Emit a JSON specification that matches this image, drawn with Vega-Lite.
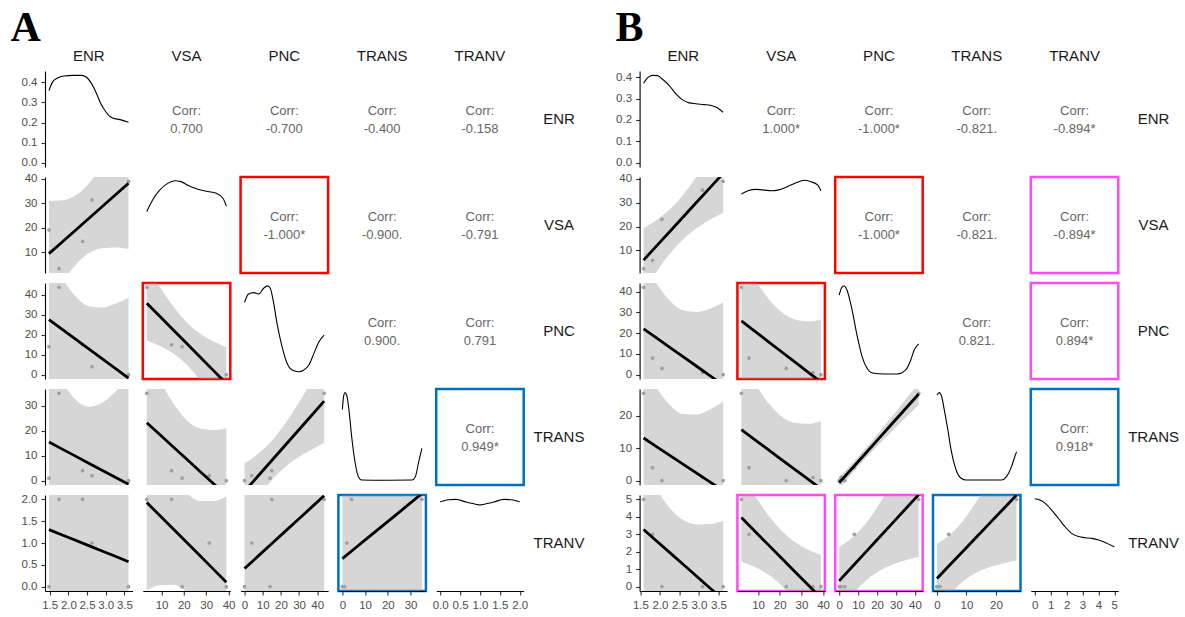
{
"$schema":"https://vega.github.io/schema/vega-lite/v6.json",
"background":"white",
"padding":{"left":10,"top":7,"right":5,"bottom":5},
"datasets":{
"A_obs":[{"ENR":1.48,"VSA":19.2,"PNC":14.0,"TRANS":1,"TRANV":0},{"ENR":1.75,"VSA":3.4,"PNC":43.8,"TRANS":35,"TRANV":2},{"ENR":2.38,"VSA":14.5,"PNC":15.0,"TRANS":4,"TRANV":2},{"ENR":2.63,"VSA":31.4,"PNC":4.0,"TRANS":2,"TRANV":1},{"ENR":3.61,"VSA":39.0,"PNC":0.0,"TRANS":0,"TRANV":0}],
"B_obs":[{"ENR":1.58,"VSA":2.3,"PNC":42,"TRANS":27,"TRANV":5},{"ENR":1.81,"VSA":5.8,"PNC":8,"TRANS":4,"TRANV":3},{"ENR":2.05,"VSA":23.0,"PNC":3,"TRANS":0,"TRANV":0},{"ENR":3.09,"VSA":35.3,"PNC":1,"TRANS":1,"TRANV":0},{"ENR":3.62,"VSA":39.0,"PNC":0,"TRANS":0,"TRANV":0}],
"A_fit":[
{"p":"ENR-VSA","x":1.48,"fit":9.51,"lo":-11.95,"hi":30.97},{"p":"ENR-VSA","x":1.835,"fit":14.29,"lo":-2.67,"hi":31.25},{"p":"ENR-VSA","x":2.19,"fit":19.08,"lo":4.9,"hi":33.26},{"p":"ENR-VSA","x":2.545,"fit":23.86,"lo":9.7,"hi":38.02},{"p":"ENR-VSA","x":2.9,"fit":28.64,"lo":11.73,"hi":45.55},{"p":"ENR-VSA","x":3.255,"fit":33.42,"lo":12.03,"hi":54.81},{"p":"ENR-VSA","x":3.61,"fit":38.2,"lo":11.46,"hi":64.94},
{"p":"ENR-PNC","x":1.48,"fit":27.65,"lo":-4.84,"hi":60.14},{"p":"ENR-PNC","x":1.835,"fit":22.75,"lo":-2.93,"hi":48.43},{"p":"ENR-PNC","x":2.19,"fit":17.85,"lo":-3.62,"hi":39.32},{"p":"ENR-PNC","x":2.545,"fit":12.94,"lo":-8.5,"hi":34.38},{"p":"ENR-PNC","x":2.9,"fit":8.04,"lo":-17.56,"hi":33.64},{"p":"ENR-PNC","x":3.255,"fit":3.14,"lo":-29.24,"hi":35.52},{"p":"ENR-PNC","x":3.61,"fit":-1.77,"lo":-42.25,"hi":38.71},
{"p":"VSA-PNC","x":3.4,"fit":35.86,"lo":17.19,"hi":54.53},{"p":"VSA-PNC","x":9.33,"fit":29.14,"lo":14.33,"hi":43.95},{"p":"VSA-PNC","x":15.27,"fit":22.42,"lo":10.55,"hi":34.29},{"p":"VSA-PNC","x":21.2,"fit":15.7,"lo":5.07,"hi":26.33},{"p":"VSA-PNC","x":27.13,"fit":8.98,"lo":-2.67,"hi":20.63},{"p":"VSA-PNC","x":33.07,"fit":2.26,"lo":-12.2,"hi":16.72},{"p":"VSA-PNC","x":39.0,"fit":-4.46,"lo":-22.71,"hi":13.79},
{"p":"ENR-TRANS","x":1.48,"fit":15.45,"lo":-18.84,"hi":49.74},{"p":"ENR-TRANS","x":1.835,"fit":12.64,"lo":-14.47,"hi":39.75},{"p":"ENR-TRANS","x":2.19,"fit":9.83,"lo":-12.83,"hi":32.49},{"p":"ENR-TRANS","x":2.545,"fit":7.01,"lo":-15.62,"hi":29.64},{"p":"ENR-TRANS","x":2.9,"fit":4.2,"lo":-22.82,"hi":31.22},{"p":"ENR-TRANS","x":3.255,"fit":1.39,"lo":-32.8,"hi":35.58},{"p":"ENR-TRANS","x":3.61,"fit":-1.42,"lo":-44.16,"hi":41.32},
{"p":"VSA-TRANS","x":3.4,"fit":23.23,"lo":-4.36,"hi":50.82},{"p":"VSA-TRANS","x":9.33,"fit":18.37,"lo":-3.52,"hi":40.26},{"p":"VSA-TRANS","x":15.27,"fit":13.51,"lo":-4.03,"hi":31.05},{"p":"VSA-TRANS","x":21.2,"fit":8.65,"lo":-7.06,"hi":24.36},{"p":"VSA-TRANS","x":27.13,"fit":3.79,"lo":-13.43,"hi":21.01},{"p":"VSA-TRANS","x":33.07,"fit":-1.08,"lo":-22.45,"hi":20.29},{"p":"VSA-TRANS","x":39.0,"fit":-5.94,"lo":-32.92,"hi":21.04},
{"p":"PNC-TRANS","x":0,"fit":-4.27,"lo":-15.5,"hi":6.96},{"p":"PNC-TRANS","x":7.3,"fit":1.75,"lo":-7.21,"hi":10.71},{"p":"PNC-TRANS","x":14.6,"fit":7.77,"lo":-0.17,"hi":15.71},{"p":"PNC-TRANS","x":21.9,"fit":13.79,"lo":5.16,"hi":22.42},{"p":"PNC-TRANS","x":29.2,"fit":19.82,"lo":9.13,"hi":30.51},{"p":"PNC-TRANS","x":36.5,"fit":25.84,"lo":12.33,"hi":39.35},{"p":"PNC-TRANS","x":43.8,"fit":31.86,"lo":15.14,"hi":48.58},
{"p":"ENR-TRANV","x":1.48,"fit":1.307,"lo":-1.143,"hi":3.757},{"p":"ENR-TRANV","x":1.835,"fit":1.185,"lo":-0.752,"hi":3.122},{"p":"ENR-TRANV","x":2.19,"fit":1.062,"lo":-0.557,"hi":2.681},{"p":"ENR-TRANV","x":2.545,"fit":0.94,"lo":-0.677,"hi":2.557},{"p":"ENR-TRANV","x":2.9,"fit":0.817,"lo":-1.114,"hi":2.748},{"p":"ENR-TRANV","x":3.255,"fit":0.695,"lo":-1.747,"hi":3.137},{"p":"ENR-TRANV","x":3.61,"fit":0.572,"lo":-2.481,"hi":3.625},
{"p":"VSA-TRANV","x":3.4,"fit":1.928,"lo":-0.078,"hi":3.934},{"p":"VSA-TRANV","x":9.33,"fit":1.624,"lo":0.032,"hi":3.216},{"p":"VSA-TRANV","x":15.27,"fit":1.32,"lo":0.044,"hi":2.596},{"p":"VSA-TRANV","x":21.2,"fit":1.015,"lo":-0.128,"hi":2.158},{"p":"VSA-TRANV","x":27.13,"fit":0.711,"lo":-0.542,"hi":1.964},{"p":"VSA-TRANV","x":33.07,"fit":0.407,"lo":-1.147,"hi":1.961},{"p":"VSA-TRANV","x":39.0,"fit":0.103,"lo":-1.859,"hi":2.065},
{"p":"PNC-TRANV","x":0,"fit":0.415,"lo":-1.346,"hi":2.176},{"p":"PNC-TRANV","x":7.3,"fit":0.693,"lo":-0.712,"hi":2.098},{"p":"PNC-TRANV","x":14.6,"fit":0.971,"lo":-0.275,"hi":2.217},{"p":"PNC-TRANV","x":21.9,"fit":1.249,"lo":-0.104,"hi":2.602},{"p":"PNC-TRANV","x":29.2,"fit":1.527,"lo":-0.149,"hi":3.203},{"p":"PNC-TRANV","x":36.5,"fit":1.805,"lo":-0.314,"hi":3.924},{"p":"PNC-TRANV","x":43.8,"fit":2.084,"lo":-0.538,"hi":4.706},
{"p":"TRANS-TRANV","x":0,"fit":0.643,"lo":-0.856,"hi":2.142},{"p":"TRANS-TRANV","x":5.83,"fit":0.891,"lo":-0.401,"hi":2.183},{"p":"TRANS-TRANV","x":11.67,"fit":1.139,"lo":-0.167,"hi":2.445},{"p":"TRANS-TRANV","x":17.5,"fit":1.387,"lo":-0.148,"hi":2.922},{"p":"TRANS-TRANV","x":23.33,"fit":1.635,"lo":-0.268,"hi":3.538},{"p":"TRANS-TRANV","x":29.17,"fit":1.884,"lo":-0.46,"hi":4.228},{"p":"TRANS-TRANV","x":35,"fit":2.132,"lo":-0.694,"hi":4.958}
],
"B_fit":[
{"p":"ENR-VSA","x":1.58,"fit":5.9,"lo":-7.53,"hi":19.33},{"p":"ENR-VSA","x":1.92,"fit":11.97,"lo":1.09,"hi":22.85},{"p":"ENR-VSA","x":2.26,"fit":18.04,"lo":8.7,"hi":27.38},{"p":"ENR-VSA","x":2.6,"fit":24.12,"lo":14.78,"hi":33.46},{"p":"ENR-VSA","x":2.94,"fit":30.19,"lo":19.31,"hi":41.07},{"p":"ENR-VSA","x":3.28,"fit":36.26,"lo":22.83,"hi":49.69},{"p":"ENR-VSA","x":3.62,"fit":42.33,"lo":25.79,"hi":58.87},
{"p":"ENR-PNC","x":1.58,"fit":22.07,"lo":-10.13,"hi":54.27},{"p":"ENR-PNC","x":1.92,"fit":17.56,"lo":-8.51,"hi":43.63},{"p":"ENR-PNC","x":2.26,"fit":13.05,"lo":-9.34,"hi":35.44},{"p":"ENR-PNC","x":2.6,"fit":8.55,"lo":-13.84,"hi":30.94},{"p":"ENR-PNC","x":2.94,"fit":4.04,"lo":-22.03,"hi":30.11},{"p":"ENR-PNC","x":3.28,"fit":-0.47,"lo":-32.67,"hi":31.73},{"p":"ENR-PNC","x":3.62,"fit":-4.98,"lo":-44.63,"hi":34.67},
{"p":"VSA-PNC","x":2.3,"fit":25.83,"lo":-4.91,"hi":56.57},{"p":"VSA-PNC","x":8.42,"fit":20.94,"lo":-4.14,"hi":46.02},{"p":"VSA-PNC","x":14.53,"fit":16.04,"lo":-4.84,"hi":36.92},{"p":"VSA-PNC","x":20.65,"fit":11.14,"lo":-7.99,"hi":30.27},{"p":"VSA-PNC","x":26.77,"fit":6.25,"lo":-14.21,"hi":26.71},{"p":"VSA-PNC","x":32.88,"fit":1.35,"lo":-23.03,"hi":25.73},{"p":"VSA-PNC","x":39.0,"fit":-3.54,"lo":-33.43,"hi":26.35},
{"p":"ENR-TRANS","x":1.58,"fit":13.19,"lo":-9.21,"hi":35.59},{"p":"ENR-TRANS","x":1.92,"fit":10.47,"lo":-7.67,"hi":28.61},{"p":"ENR-TRANS","x":2.26,"fit":7.76,"lo":-7.82,"hi":23.34},{"p":"ENR-TRANS","x":2.6,"fit":5.04,"lo":-10.54,"hi":20.62},{"p":"ENR-TRANS","x":2.94,"fit":2.33,"lo":-15.81,"hi":20.47},{"p":"ENR-TRANS","x":3.28,"fit":-0.39,"lo":-22.79,"hi":22.01},{"p":"ENR-TRANS","x":3.62,"fit":-3.1,"lo":-30.69,"hi":24.49},
{"p":"VSA-TRANS","x":2.3,"fit":15.75,"lo":-5.77,"hi":37.27},{"p":"VSA-TRANS","x":8.42,"fit":12.7,"lo":-4.86,"hi":30.26},{"p":"VSA-TRANS","x":14.53,"fit":9.66,"lo":-4.96,"hi":24.28},{"p":"VSA-TRANS","x":20.65,"fit":6.61,"lo":-6.79,"hi":20.01},{"p":"VSA-TRANS","x":26.77,"fit":3.57,"lo":-10.76,"hi":17.9},{"p":"VSA-TRANS","x":32.88,"fit":0.53,"lo":-16.54,"hi":17.6},{"p":"VSA-TRANS","x":39.0,"fit":-2.52,"lo":-23.45,"hi":18.41},
{"p":"PNC-TRANS","x":0,"fit":-0.67,"lo":-2.53,"hi":1.19},{"p":"PNC-TRANS","x":7,"fit":3.91,"lo":2.33,"hi":5.49},{"p":"PNC-TRANS","x":14,"fit":8.49,"lo":6.92,"hi":10.06},{"p":"PNC-TRANS","x":21,"fit":13.08,"lo":11.25,"hi":14.91},{"p":"PNC-TRANS","x":28,"fit":17.66,"lo":15.39,"hi":19.93},{"p":"PNC-TRANS","x":35,"fit":22.24,"lo":19.43,"hi":25.05},{"p":"PNC-TRANS","x":42,"fit":26.82,"lo":23.42,"hi":30.22},
{"p":"ENR-TRANV","x":1.58,"fit":3.274,"lo":-0.386,"hi":6.934},{"p":"ENR-TRANV","x":1.92,"fit":2.604,"lo":-0.36,"hi":5.568},{"p":"ENR-TRANV","x":2.26,"fit":1.935,"lo":-0.611,"hi":4.481},{"p":"ENR-TRANV","x":2.6,"fit":1.265,"lo":-1.281,"hi":3.811},{"p":"ENR-TRANV","x":2.94,"fit":0.596,"lo":-2.368,"hi":3.56},{"p":"ENR-TRANV","x":3.28,"fit":-0.074,"lo":-3.734,"hi":3.586},{"p":"ENR-TRANV","x":3.62,"fit":-0.743,"lo":-5.251,"hi":3.765},
{"p":"VSA-TRANV","x":2.3,"fit":3.957,"lo":1.431,"hi":6.483},{"p":"VSA-TRANV","x":8.42,"fit":3.19,"lo":1.129,"hi":5.251},{"p":"VSA-TRANV","x":14.53,"fit":2.422,"lo":0.706,"hi":4.138},{"p":"VSA-TRANV","x":20.65,"fit":1.654,"lo":0.082,"hi":3.226},{"p":"VSA-TRANV","x":26.77,"fit":0.886,"lo":-0.796,"hi":2.568},{"p":"VSA-TRANV","x":32.88,"fit":0.118,"lo":-1.886,"hi":2.122},{"p":"VSA-TRANV","x":39.0,"fit":-0.65,"lo":-3.106,"hi":1.806},
{"p":"PNC-TRANV","x":0,"fit":0.33,"lo":-1.619,"hi":2.279},{"p":"PNC-TRANV","x":7,"fit":1.153,"lo":-0.503,"hi":2.809},{"p":"PNC-TRANV","x":14,"fit":1.976,"lo":0.334,"hi":3.618},{"p":"PNC-TRANV","x":21,"fit":2.8,"lo":0.885,"hi":4.715},{"p":"PNC-TRANV","x":28,"fit":3.623,"lo":1.247,"hi":5.999},{"p":"PNC-TRANV","x":35,"fit":4.447,"lo":1.508,"hi":7.386},{"p":"PNC-TRANV","x":42,"fit":5.27,"lo":1.714,"hi":8.826},
{"p":"TRANS-TRANV","x":0,"fit":0.467,"lo":-1.52,"hi":2.454},{"p":"TRANS-TRANV","x":4.5,"fit":1.264,"lo":-0.456,"hi":2.984},{"p":"TRANS-TRANV","x":9,"fit":2.06,"lo":0.316,"hi":3.804},{"p":"TRANS-TRANV","x":13.5,"fit":2.857,"lo":0.808,"hi":4.906},{"p":"TRANS-TRANV","x":18,"fit":3.653,"lo":1.118,"hi":6.188},{"p":"TRANS-TRANV","x":22.5,"fit":4.45,"lo":1.332,"hi":7.568},{"p":"TRANS-TRANV","x":27,"fit":5.246,"lo":1.492,"hi":9.0}
],
"A_dens":[
{"v":"ENR","x":1.48,"d":0.359},{"v":"ENR","x":1.57,"d":0.4},{"v":"ENR","x":1.71,"d":0.422},{"v":"ENR","x":1.885,"d":0.432},{"v":"ENR","x":2.11,"d":0.435},{"v":"ENR","x":2.33,"d":0.435},{"v":"ENR","x":2.465,"d":0.428},{"v":"ENR","x":2.6,"d":0.4},{"v":"ENR","x":2.74,"d":0.35},{"v":"ENR","x":2.87,"d":0.293},{"v":"ENR","x":3.01,"d":0.251},{"v":"ENR","x":3.14,"d":0.226},{"v":"ENR","x":3.28,"d":0.218},{"v":"ENR","x":3.41,"d":0.213},{"v":"ENR","x":3.61,"d":0.201},
{"v":"VSA","x":3.4,"d":0.0196},{"v":"VSA","x":6.0,"d":0.0236},{"v":"VSA","x":8.96,"d":0.0268},{"v":"VSA","x":12.74,"d":0.0293},{"v":"VSA","x":15.71,"d":0.0302},{"v":"VSA","x":18.72,"d":0.0299},{"v":"VSA","x":21.74,"d":0.0287},{"v":"VSA","x":26.24,"d":0.0273},{"v":"VSA","x":30.74,"d":0.0265},{"v":"VSA","x":34.48,"d":0.0259},{"v":"VSA","x":37.5,"d":0.0242},{"v":"VSA","x":39.0,"d":0.0215},
{"v":"PNC","x":0,"d":0.0249},{"v":"PNC","x":2.18,"d":0.0277},{"v":"PNC","x":4.95,"d":0.0282},{"v":"PNC","x":7.72,"d":0.0277},{"v":"PNC","x":10.49,"d":0.0297},{"v":"PNC","x":12.71,"d":0.0305},{"v":"PNC","x":14.15,"d":0.0297},{"v":"PNC","x":16.03,"d":0.0245},{"v":"PNC","x":17.86,"d":0.0176},{"v":"PNC","x":20.63,"d":0.0096},{"v":"PNC","x":23.4,"d":0.0039},{"v":"PNC","x":26.16,"d":0.0016},{"v":"PNC","x":29.88,"d":0.001},{"v":"PNC","x":32.64,"d":0.0016},{"v":"PNC","x":35.41,"d":0.0033},{"v":"PNC","x":38.18,"d":0.0073},{"v":"PNC","x":40.95,"d":0.0113},{"v":"PNC","x":43.8,"d":0.0136},
{"v":"TRANS","x":0,"d":0.049},{"v":"TRANS","x":0.42,"d":0.0566},{"v":"TRANS","x":1.13,"d":0.0605},{"v":"TRANS","x":1.88,"d":0.0589},{"v":"TRANS","x":2.9,"d":0.0485},{"v":"TRANS","x":4.09,"d":0.0302},{"v":"TRANS","x":5.55,"d":0.013},{"v":"TRANS","x":7.06,"d":0.0027},{"v":"TRANS","x":8.52,"d":0.0004},{"v":"TRANS","x":12.94,"d":0.0003},{"v":"TRANS","x":20.33,"d":0.0003},{"v":"TRANS","x":30.64,"d":0.0004},{"v":"TRANS","x":32.1,"d":0.0027},{"v":"TRANS","x":33.6,"d":0.013},{"v":"TRANS","x":35,"d":0.0222},
{"v":"TRANV","x":0,"d":0.389},{"v":"TRANV","x":0.2,"d":0.398},{"v":"TRANV","x":0.4,"d":0.4},{"v":"TRANV","x":0.65,"d":0.388},{"v":"TRANV","x":0.9,"d":0.378},{"v":"TRANV","x":1.0,"d":0.374},{"v":"TRANV","x":1.1,"d":0.378},{"v":"TRANV","x":1.35,"d":0.388},{"v":"TRANV","x":1.6,"d":0.4},{"v":"TRANV","x":1.8,"d":0.398},{"v":"TRANV","x":2.0,"d":0.389}
],
"B_dens":[
{"v":"ENR","x":1.58,"d":0.372},{"v":"ENR","x":1.68,"d":0.397},{"v":"ENR","x":1.81,"d":0.409},{"v":"ENR","x":1.94,"d":0.408},{"v":"ENR","x":2.06,"d":0.392},{"v":"ENR","x":2.24,"d":0.361},{"v":"ENR","x":2.41,"d":0.322},{"v":"ENR","x":2.58,"d":0.294},{"v":"ENR","x":2.75,"d":0.28},{"v":"ENR","x":2.92,"d":0.276},{"v":"ENR","x":3.13,"d":0.272},{"v":"ENR","x":3.31,"d":0.268},{"v":"ENR","x":3.47,"d":0.257},{"v":"ENR","x":3.62,"d":0.236},
{"v":"VSA","x":2.3,"d":0.0214},{"v":"VSA","x":5.33,"d":0.0223},{"v":"VSA","x":9.18,"d":0.0227},{"v":"VSA","x":12.99,"d":0.0225},{"v":"VSA","x":16.06,"d":0.0223},{"v":"VSA","x":19.09,"d":0.0225},{"v":"VSA","x":22.94,"d":0.0233},{"v":"VSA","x":27.53,"d":0.0246},{"v":"VSA","x":31.34,"d":0.0253},{"v":"VSA","x":34.41,"d":0.0249},{"v":"VSA","x":37.44,"d":0.024},{"v":"VSA","x":39.0,"d":0.0223},
{"v":"PNC","x":0,"d":0.0456},{"v":"PNC","x":1.5,"d":0.0501},{"v":"PNC","x":2.7,"d":0.0508},{"v":"PNC","x":4.1,"d":0.0485},{"v":"PNC","x":6.8,"d":0.0371},{"v":"PNC","x":9.4,"d":0.0227},{"v":"PNC","x":12.1,"d":0.0103},{"v":"PNC","x":14.7,"d":0.0037},{"v":"PNC","x":18.2,"d":0.0008},{"v":"PNC","x":23.6,"d":0.0004},{"v":"PNC","x":30.7,"d":0.0004},{"v":"PNC","x":35.1,"d":0.0027},{"v":"PNC","x":37.8,"d":0.0084},{"v":"PNC","x":39.6,"d":0.0141},{"v":"PNC","x":42,"d":0.0176},
{"v":"TRANS","x":0,"d":0.0687},{"v":"TRANS","x":0.8,"d":0.0706},{"v":"TRANS","x":1.6,"d":0.0673},{"v":"TRANS","x":2.5,"d":0.0566},{"v":"TRANS","x":3.7,"d":0.0406},{"v":"TRANS","x":4.8,"d":0.0246},{"v":"TRANS","x":6.5,"d":0.0085},{"v":"TRANS","x":8.2,"d":0.0019},{"v":"TRANS","x":9.9,"d":0.0005},{"v":"TRANS","x":13.9,"d":0.0005},{"v":"TRANS","x":21.9,"d":0.0005},{"v":"TRANS","x":23.6,"d":0.0032},{"v":"TRANS","x":25.3,"d":0.0112},{"v":"TRANS","x":26.4,"d":0.0192},{"v":"TRANS","x":27,"d":0.0232},
{"v":"TRANV","x":0,"d":0.302},{"v":"TRANV","x":0.32,"d":0.298},{"v":"TRANV","x":0.64,"d":0.287},{"v":"TRANV","x":1.06,"d":0.263},{"v":"TRANV","x":1.48,"d":0.235},{"v":"TRANV","x":1.9,"d":0.206},{"v":"TRANV","x":2.32,"d":0.183},{"v":"TRANV","x":2.75,"d":0.172},{"v":"TRANV","x":3.17,"d":0.168},{"v":"TRANV","x":3.6,"d":0.166},{"v":"TRANV","x":4.02,"d":0.16},{"v":"TRANV","x":4.45,"d":0.151},{"v":"TRANV","x":5.0,"d":0.137}
],
"A_corr":[{"p":"ENR-VSA","label":"Corr:\n0.700"},{"p":"ENR-PNC","label":"Corr:\n-0.700"},{"p":"ENR-TRANS","label":"Corr:\n-0.400"},{"p":"ENR-TRANV","label":"Corr:\n-0.158"},{"p":"VSA-PNC","label":"Corr:\n-1.000*"},{"p":"VSA-TRANS","label":"Corr:\n-0.900."},{"p":"VSA-TRANV","label":"Corr:\n-0.791"},{"p":"PNC-TRANS","label":"Corr:\n0.900."},{"p":"PNC-TRANV","label":"Corr:\n0.791"},{"p":"TRANS-TRANV","label":"Corr:\n0.949*"}],
"B_corr":[{"p":"ENR-VSA","label":"Corr:\n1.000*"},{"p":"ENR-PNC","label":"Corr:\n-1.000*"},{"p":"ENR-TRANS","label":"Corr:\n-0.821."},{"p":"ENR-TRANV","label":"Corr:\n-0.894*"},{"p":"VSA-PNC","label":"Corr:\n-1.000*"},{"p":"VSA-TRANS","label":"Corr:\n-0.821."},{"p":"VSA-TRANV","label":"Corr:\n-0.894*"},{"p":"PNC-TRANS","label":"Corr:\n0.821."},{"p":"PNC-TRANV","label":"Corr:\n0.894*"},{"p":"TRANS-TRANV","label":"Corr:\n0.918*"}],
"vars":[{"v":"ENR"},{"v":"VSA"},{"v":"PNC"},{"v":"TRANS"},{"v":"TRANV"}]
},
"hconcat":[
{
"title":{"text":"A","anchor":"start","frame":"group","font":"Liberation Serif","fontSize":42,"fontWeight":"bold","color":"#000000","dx":-34.5,"offset":-1},
"columns":6,"spacing":{"row":10,"column":9.8},"bounds":"flush","align":"each",
"concat":[
{"width":87.5,"height":96,"title":"ENR","data":{"name":"A_dens"},"transform":[{"filter":"datum.v=='ENR'"}],"mark":{"type":"line","color":"#000000","strokeWidth":1.1,"interpolate":"monotone"},"encoding":{"x":{"field":"x","type":"quantitative","scale":{"domain":[1.3735,3.7165]},"axis":null},"y":{"field":"d","type":"quantitative","scale":{"domain":[-0.02175,0.45675]},"axis":{"values":[0,0.1,0.2,0.3,0.4],"format":".1f","title":null}}}},
{"width":87.5,"height":96,"title":"VSA","data":{"name":"A_corr"},"transform":[{"filter":"datum.p=='ENR-VSA'"}],"mark":{"type":"text","style":"corr"},"encoding":{"text":{"field":"label","type":"nominal"}}},
{"width":87.5,"height":96,"title":"PNC","data":{"name":"A_corr"},"transform":[{"filter":"datum.p=='ENR-PNC'"}],"mark":{"type":"text","style":"corr"},"encoding":{"text":{"field":"label","type":"nominal"}}},
{"width":87.5,"height":96,"title":"TRANS","data":{"name":"A_corr"},"transform":[{"filter":"datum.p=='ENR-TRANS'"}],"mark":{"type":"text","style":"corr"},"encoding":{"text":{"field":"label","type":"nominal"}}},
{"width":87.5,"height":96,"title":"TRANV","data":{"name":"A_corr"},"transform":[{"filter":"datum.p=='ENR-TRANV'"}],"mark":{"type":"text","style":"corr"},"encoding":{"text":{"field":"label","type":"nominal"}}},
{"width":50,"height":96,"data":{"name":"vars"},"transform":[{"filter":"datum.v=='ENR'"}],"mark":{"type":"text","fontSize":15,"color":"#1a1a1a"},"encoding":{"text":{"field":"v","type":"nominal"}}},

{"width":87.5,"height":96,"layer":[
{"data":{"name":"A_fit"},"transform":[{"filter":"datum.p=='ENR-VSA'"}],"mark":{"type":"area","color":"#999999","opacity":0.4,"clip":true,"interpolate":"monotone"},"encoding":{"x":{"field":"x","type":"quantitative","scale":{"domain":[1.3735,3.7165]},"axis":null},"y":{"field":"lo","type":"quantitative","scale":{"domain":[1.62,40.78]},"axis":{"values":[10,20,30,40],"title":null}},"y2":{"field":"hi"}}},
{"data":{"name":"A_obs"},"mark":{"type":"circle","color":"#a0a0a0","size":14,"opacity":1},"encoding":{"x":{"field":"ENR","type":"quantitative","scale":{"domain":[1.3735,3.7165]},"axis":null},"y":{"field":"VSA","type":"quantitative","scale":{"domain":[1.62,40.78]},"axis":{"values":[10,20,30,40],"title":null}}}},
{"data":{"name":"A_fit"},"transform":[{"filter":"datum.p=='ENR-VSA'"}],"mark":{"type":"line","color":"#000000","strokeWidth":2.8,"clip":true},"encoding":{"x":{"field":"x","type":"quantitative","scale":{"domain":[1.3735,3.7165]},"axis":null},"y":{"field":"fit","type":"quantitative","scale":{"domain":[1.62,40.78]},"axis":{"values":[10,20,30,40],"title":null}}}}]},
{"width":87.5,"height":96,"data":{"name":"A_dens"},"transform":[{"filter":"datum.v=='VSA'"}],"mark":{"type":"line","color":"#000000","strokeWidth":1.1,"interpolate":"monotone"},"encoding":{"x":{"field":"x","type":"quantitative","scale":{"domain":[1.62,40.78]},"axis":null},"y":{"field":"d","type":"quantitative","scale":{"domain":[-0.0015,0.0315]},"axis":null}}},
{"width":87.5,"height":96,"view":{"stroke":"#ff0000","strokeWidth":2.5},"data":{"name":"A_corr"},"transform":[{"filter":"datum.p=='VSA-PNC'"}],"mark":{"type":"text","style":"corr"},"encoding":{"text":{"field":"label","type":"nominal"}}},
{"width":87.5,"height":96,"data":{"name":"A_corr"},"transform":[{"filter":"datum.p=='VSA-TRANS'"}],"mark":{"type":"text","style":"corr"},"encoding":{"text":{"field":"label","type":"nominal"}}},
{"width":87.5,"height":96,"data":{"name":"A_corr"},"transform":[{"filter":"datum.p=='VSA-TRANV'"}],"mark":{"type":"text","style":"corr"},"encoding":{"text":{"field":"label","type":"nominal"}}},
{"width":50,"height":96,"data":{"name":"vars"},"transform":[{"filter":"datum.v=='VSA'"}],"mark":{"type":"text","fontSize":15,"color":"#1a1a1a"},"encoding":{"text":{"field":"v","type":"nominal"}}},

{"width":87.5,"height":96,"layer":[
{"data":{"name":"A_fit"},"transform":[{"filter":"datum.p=='ENR-PNC'"}],"mark":{"type":"area","color":"#999999","opacity":0.4,"clip":true,"interpolate":"monotone"},"encoding":{"x":{"field":"x","type":"quantitative","scale":{"domain":[1.3735,3.7165]},"axis":null},"y":{"field":"lo","type":"quantitative","scale":{"domain":[-2.19,45.99]},"axis":{"values":[0,10,20,30,40],"title":null}},"y2":{"field":"hi"}}},
{"data":{"name":"A_obs"},"mark":{"type":"circle","color":"#a0a0a0","size":14,"opacity":1},"encoding":{"x":{"field":"ENR","type":"quantitative","scale":{"domain":[1.3735,3.7165]},"axis":null},"y":{"field":"PNC","type":"quantitative","scale":{"domain":[-2.19,45.99]},"axis":{"values":[0,10,20,30,40],"title":null}}}},
{"data":{"name":"A_fit"},"transform":[{"filter":"datum.p=='ENR-PNC'"}],"mark":{"type":"line","color":"#000000","strokeWidth":2.8,"clip":true},"encoding":{"x":{"field":"x","type":"quantitative","scale":{"domain":[1.3735,3.7165]},"axis":null},"y":{"field":"fit","type":"quantitative","scale":{"domain":[-2.19,45.99]},"axis":{"values":[0,10,20,30,40],"title":null}}}}]},
{"width":87.5,"height":96,"view":{"stroke":"#ff0000","strokeWidth":2.5},"layer":[
{"data":{"name":"A_fit"},"transform":[{"filter":"datum.p=='VSA-PNC'"}],"mark":{"type":"area","color":"#999999","opacity":0.4,"clip":true,"interpolate":"monotone"},"encoding":{"x":{"field":"x","type":"quantitative","scale":{"domain":[1.62,40.78]},"axis":null},"y":{"field":"lo","type":"quantitative","scale":{"domain":[-2.19,45.99]},"axis":null},"y2":{"field":"hi"}}},
{"data":{"name":"A_obs"},"mark":{"type":"circle","color":"#a0a0a0","size":14,"opacity":1},"encoding":{"x":{"field":"VSA","type":"quantitative","scale":{"domain":[1.62,40.78]},"axis":null},"y":{"field":"PNC","type":"quantitative","scale":{"domain":[-2.19,45.99]},"axis":null}}},
{"data":{"name":"A_fit"},"transform":[{"filter":"datum.p=='VSA-PNC'"}],"mark":{"type":"line","color":"#000000","strokeWidth":2.8,"clip":true},"encoding":{"x":{"field":"x","type":"quantitative","scale":{"domain":[1.62,40.78]},"axis":null},"y":{"field":"fit","type":"quantitative","scale":{"domain":[-2.19,45.99]},"axis":null}}}]},
{"width":87.5,"height":96,"data":{"name":"A_dens"},"transform":[{"filter":"datum.v=='PNC'"}],"mark":{"type":"line","color":"#000000","strokeWidth":1.1,"interpolate":"monotone"},"encoding":{"x":{"field":"x","type":"quantitative","scale":{"domain":[-2.19,45.99]},"axis":null},"y":{"field":"d","type":"quantitative","scale":{"domain":[-0.0015,0.0315]},"axis":null}}},
{"width":87.5,"height":96,"data":{"name":"A_corr"},"transform":[{"filter":"datum.p=='PNC-TRANS'"}],"mark":{"type":"text","style":"corr"},"encoding":{"text":{"field":"label","type":"nominal"}}},
{"width":87.5,"height":96,"data":{"name":"A_corr"},"transform":[{"filter":"datum.p=='PNC-TRANV'"}],"mark":{"type":"text","style":"corr"},"encoding":{"text":{"field":"label","type":"nominal"}}},
{"width":50,"height":96,"data":{"name":"vars"},"transform":[{"filter":"datum.v=='PNC'"}],"mark":{"type":"text","fontSize":15,"color":"#1a1a1a"},"encoding":{"text":{"field":"v","type":"nominal"}}},

{"width":87.5,"height":96,"layer":[
{"data":{"name":"A_fit"},"transform":[{"filter":"datum.p=='ENR-TRANS'"}],"mark":{"type":"area","color":"#999999","opacity":0.4,"clip":true,"interpolate":"monotone"},"encoding":{"x":{"field":"x","type":"quantitative","scale":{"domain":[1.3735,3.7165]},"axis":null},"y":{"field":"lo","type":"quantitative","scale":{"domain":[-1.75,36.75]},"axis":{"values":[0,10,20,30],"title":null}},"y2":{"field":"hi"}}},
{"data":{"name":"A_obs"},"mark":{"type":"circle","color":"#a0a0a0","size":14,"opacity":1},"encoding":{"x":{"field":"ENR","type":"quantitative","scale":{"domain":[1.3735,3.7165]},"axis":null},"y":{"field":"TRANS","type":"quantitative","scale":{"domain":[-1.75,36.75]},"axis":{"values":[0,10,20,30],"title":null}}}},
{"data":{"name":"A_fit"},"transform":[{"filter":"datum.p=='ENR-TRANS'"}],"mark":{"type":"line","color":"#000000","strokeWidth":2.8,"clip":true},"encoding":{"x":{"field":"x","type":"quantitative","scale":{"domain":[1.3735,3.7165]},"axis":null},"y":{"field":"fit","type":"quantitative","scale":{"domain":[-1.75,36.75]},"axis":{"values":[0,10,20,30],"title":null}}}}]},
{"width":87.5,"height":96,"layer":[
{"data":{"name":"A_fit"},"transform":[{"filter":"datum.p=='VSA-TRANS'"}],"mark":{"type":"area","color":"#999999","opacity":0.4,"clip":true,"interpolate":"monotone"},"encoding":{"x":{"field":"x","type":"quantitative","scale":{"domain":[1.62,40.78]},"axis":null},"y":{"field":"lo","type":"quantitative","scale":{"domain":[-1.75,36.75]},"axis":null},"y2":{"field":"hi"}}},
{"data":{"name":"A_obs"},"mark":{"type":"circle","color":"#a0a0a0","size":14,"opacity":1},"encoding":{"x":{"field":"VSA","type":"quantitative","scale":{"domain":[1.62,40.78]},"axis":null},"y":{"field":"TRANS","type":"quantitative","scale":{"domain":[-1.75,36.75]},"axis":null}}},
{"data":{"name":"A_fit"},"transform":[{"filter":"datum.p=='VSA-TRANS'"}],"mark":{"type":"line","color":"#000000","strokeWidth":2.8,"clip":true},"encoding":{"x":{"field":"x","type":"quantitative","scale":{"domain":[1.62,40.78]},"axis":null},"y":{"field":"fit","type":"quantitative","scale":{"domain":[-1.75,36.75]},"axis":null}}}]},
{"width":87.5,"height":96,"layer":[
{"data":{"name":"A_fit"},"transform":[{"filter":"datum.p=='PNC-TRANS'"}],"mark":{"type":"area","color":"#999999","opacity":0.4,"clip":true,"interpolate":"monotone"},"encoding":{"x":{"field":"x","type":"quantitative","scale":{"domain":[-2.19,45.99]},"axis":null},"y":{"field":"lo","type":"quantitative","scale":{"domain":[-1.75,36.75]},"axis":null},"y2":{"field":"hi"}}},
{"data":{"name":"A_obs"},"mark":{"type":"circle","color":"#a0a0a0","size":14,"opacity":1},"encoding":{"x":{"field":"PNC","type":"quantitative","scale":{"domain":[-2.19,45.99]},"axis":null},"y":{"field":"TRANS","type":"quantitative","scale":{"domain":[-1.75,36.75]},"axis":null}}},
{"data":{"name":"A_fit"},"transform":[{"filter":"datum.p=='PNC-TRANS'"}],"mark":{"type":"line","color":"#000000","strokeWidth":2.8,"clip":true},"encoding":{"x":{"field":"x","type":"quantitative","scale":{"domain":[-2.19,45.99]},"axis":null},"y":{"field":"fit","type":"quantitative","scale":{"domain":[-1.75,36.75]},"axis":null}}}]},
{"width":87.5,"height":96,"data":{"name":"A_dens"},"transform":[{"filter":"datum.v=='TRANS'"}],"mark":{"type":"line","color":"#000000","strokeWidth":1.1,"interpolate":"monotone"},"encoding":{"x":{"field":"x","type":"quantitative","scale":{"domain":[-1.75,36.75]},"axis":null},"y":{"field":"d","type":"quantitative","scale":{"domain":[-0.003,0.063]},"axis":null}}},
{"width":87.5,"height":96,"view":{"stroke":"#0070c0","strokeWidth":2.5},"data":{"name":"A_corr"},"transform":[{"filter":"datum.p=='TRANS-TRANV'"}],"mark":{"type":"text","style":"corr"},"encoding":{"text":{"field":"label","type":"nominal"}}},
{"width":50,"height":96,"data":{"name":"vars"},"transform":[{"filter":"datum.v=='TRANS'"}],"mark":{"type":"text","fontSize":15,"color":"#1a1a1a"},"encoding":{"text":{"field":"v","type":"nominal"}}},

{"width":87.5,"height":96,"layer":[
{"data":{"name":"A_fit"},"transform":[{"filter":"datum.p=='ENR-TRANV'"}],"mark":{"type":"area","color":"#999999","opacity":0.4,"clip":true,"interpolate":"monotone"},"encoding":{"x":{"field":"x","type":"quantitative","scale":{"domain":[1.3735,3.7165]},"axis":{"values":[1.5,2,2.5,3,3.5],"format":".1f","title":null}},"y":{"field":"lo","type":"quantitative","scale":{"domain":[-0.1,2.1]},"axis":{"values":[0,0.5,1,1.5,2],"format":".1f","title":null}},"y2":{"field":"hi"}}},
{"data":{"name":"A_obs"},"mark":{"type":"circle","color":"#a0a0a0","size":14,"opacity":1},"encoding":{"x":{"field":"ENR","type":"quantitative","scale":{"domain":[1.3735,3.7165]},"axis":{"values":[1.5,2,2.5,3,3.5],"format":".1f","title":null}},"y":{"field":"TRANV","type":"quantitative","scale":{"domain":[-0.1,2.1]},"axis":{"values":[0,0.5,1,1.5,2],"format":".1f","title":null}}}},
{"data":{"name":"A_fit"},"transform":[{"filter":"datum.p=='ENR-TRANV'"}],"mark":{"type":"line","color":"#000000","strokeWidth":2.8,"clip":true},"encoding":{"x":{"field":"x","type":"quantitative","scale":{"domain":[1.3735,3.7165]},"axis":{"values":[1.5,2,2.5,3,3.5],"format":".1f","title":null}},"y":{"field":"fit","type":"quantitative","scale":{"domain":[-0.1,2.1]},"axis":{"values":[0,0.5,1,1.5,2],"format":".1f","title":null}}}}]},
{"width":87.5,"height":96,"layer":[
{"data":{"name":"A_fit"},"transform":[{"filter":"datum.p=='VSA-TRANV'"}],"mark":{"type":"area","color":"#999999","opacity":0.4,"clip":true,"interpolate":"monotone"},"encoding":{"x":{"field":"x","type":"quantitative","scale":{"domain":[1.62,40.78]},"axis":{"values":[10,20,30,40],"title":null}},"y":{"field":"lo","type":"quantitative","scale":{"domain":[-0.1,2.1]},"axis":null},"y2":{"field":"hi"}}},
{"data":{"name":"A_obs"},"mark":{"type":"circle","color":"#a0a0a0","size":14,"opacity":1},"encoding":{"x":{"field":"VSA","type":"quantitative","scale":{"domain":[1.62,40.78]},"axis":{"values":[10,20,30,40],"title":null}},"y":{"field":"TRANV","type":"quantitative","scale":{"domain":[-0.1,2.1]},"axis":null}}},
{"data":{"name":"A_fit"},"transform":[{"filter":"datum.p=='VSA-TRANV'"}],"mark":{"type":"line","color":"#000000","strokeWidth":2.8,"clip":true},"encoding":{"x":{"field":"x","type":"quantitative","scale":{"domain":[1.62,40.78]},"axis":{"values":[10,20,30,40],"title":null}},"y":{"field":"fit","type":"quantitative","scale":{"domain":[-0.1,2.1]},"axis":null}}}]},
{"width":87.5,"height":96,"layer":[
{"data":{"name":"A_fit"},"transform":[{"filter":"datum.p=='PNC-TRANV'"}],"mark":{"type":"area","color":"#999999","opacity":0.4,"clip":true,"interpolate":"monotone"},"encoding":{"x":{"field":"x","type":"quantitative","scale":{"domain":[-2.19,45.99]},"axis":{"values":[0,10,20,30,40],"title":null}},"y":{"field":"lo","type":"quantitative","scale":{"domain":[-0.1,2.1]},"axis":null},"y2":{"field":"hi"}}},
{"data":{"name":"A_obs"},"mark":{"type":"circle","color":"#a0a0a0","size":14,"opacity":1},"encoding":{"x":{"field":"PNC","type":"quantitative","scale":{"domain":[-2.19,45.99]},"axis":{"values":[0,10,20,30,40],"title":null}},"y":{"field":"TRANV","type":"quantitative","scale":{"domain":[-0.1,2.1]},"axis":null}}},
{"data":{"name":"A_fit"},"transform":[{"filter":"datum.p=='PNC-TRANV'"}],"mark":{"type":"line","color":"#000000","strokeWidth":2.8,"clip":true},"encoding":{"x":{"field":"x","type":"quantitative","scale":{"domain":[-2.19,45.99]},"axis":{"values":[0,10,20,30,40],"title":null}},"y":{"field":"fit","type":"quantitative","scale":{"domain":[-0.1,2.1]},"axis":null}}}]},
{"width":87.5,"height":96,"view":{"stroke":"#0070c0","strokeWidth":2.5},"layer":[
{"data":{"name":"A_fit"},"transform":[{"filter":"datum.p=='TRANS-TRANV'"}],"mark":{"type":"area","color":"#999999","opacity":0.4,"clip":true,"interpolate":"monotone"},"encoding":{"x":{"field":"x","type":"quantitative","scale":{"domain":[-1.75,36.75]},"axis":{"values":[0,10,20,30],"title":null}},"y":{"field":"lo","type":"quantitative","scale":{"domain":[-0.1,2.1]},"axis":null},"y2":{"field":"hi"}}},
{"data":{"name":"A_obs"},"mark":{"type":"circle","color":"#a0a0a0","size":14,"opacity":1},"encoding":{"x":{"field":"TRANS","type":"quantitative","scale":{"domain":[-1.75,36.75]},"axis":{"values":[0,10,20,30],"title":null}},"y":{"field":"TRANV","type":"quantitative","scale":{"domain":[-0.1,2.1]},"axis":null}}},
{"data":{"name":"A_fit"},"transform":[{"filter":"datum.p=='TRANS-TRANV'"}],"mark":{"type":"line","color":"#000000","strokeWidth":2.8,"clip":true},"encoding":{"x":{"field":"x","type":"quantitative","scale":{"domain":[-1.75,36.75]},"axis":{"values":[0,10,20,30],"title":null}},"y":{"field":"fit","type":"quantitative","scale":{"domain":[-0.1,2.1]},"axis":null}}}]},
{"width":87.5,"height":96,"data":{"name":"A_dens"},"transform":[{"filter":"datum.v=='TRANV'"}],"mark":{"type":"line","color":"#000000","strokeWidth":1.1,"interpolate":"monotone"},"encoding":{"x":{"field":"x","type":"quantitative","scale":{"domain":[-0.1,2.1]},"axis":{"values":[0,0.5,1,1.5,2],"format":".1f","title":null}},"y":{"field":"d","type":"quantitative","scale":{"domain":[-0.02,0.42]},"axis":null}}},
{"width":50,"height":96,"data":{"name":"vars"},"transform":[{"filter":"datum.v=='TRANV'"}],"mark":{"type":"text","fontSize":15,"color":"#1a1a1a"},"encoding":{"text":{"field":"v","type":"nominal"}}}
]
},
{
"title":{"text":"B","anchor":"start","frame":"group","font":"Liberation Serif","fontSize":42,"fontWeight":"bold","color":"#000000","dx":-24,"offset":-1},
"columns":6,"spacing":{"row":10,"column":9.8},"bounds":"flush","align":"each",
"concat":[
{"width":87.5,"height":96,"title":"ENR","data":{"name":"B_dens"},"transform":[{"filter":"datum.v=='ENR'"}],"mark":{"type":"line","color":"#000000","strokeWidth":1.1,"interpolate":"monotone"},"encoding":{"x":{"field":"x","type":"quantitative","scale":{"domain":[1.478,3.722]},"axis":null},"y":{"field":"d","type":"quantitative","scale":{"domain":[-0.02045,0.42945]},"axis":{"values":[0,0.1,0.2,0.3,0.4],"format":".1f","title":null}}}},
{"width":87.5,"height":96,"title":"VSA","data":{"name":"B_corr"},"transform":[{"filter":"datum.p=='ENR-VSA'"}],"mark":{"type":"text","style":"corr"},"encoding":{"text":{"field":"label","type":"nominal"}}},
{"width":87.5,"height":96,"title":"PNC","data":{"name":"B_corr"},"transform":[{"filter":"datum.p=='ENR-PNC'"}],"mark":{"type":"text","style":"corr"},"encoding":{"text":{"field":"label","type":"nominal"}}},
{"width":87.5,"height":96,"title":"TRANS","data":{"name":"B_corr"},"transform":[{"filter":"datum.p=='ENR-TRANS'"}],"mark":{"type":"text","style":"corr"},"encoding":{"text":{"field":"label","type":"nominal"}}},
{"width":87.5,"height":96,"title":"TRANV","data":{"name":"B_corr"},"transform":[{"filter":"datum.p=='ENR-TRANV'"}],"mark":{"type":"text","style":"corr"},"encoding":{"text":{"field":"label","type":"nominal"}}},
{"width":50,"height":96,"data":{"name":"vars"},"transform":[{"filter":"datum.v=='ENR'"}],"mark":{"type":"text","fontSize":15,"color":"#1a1a1a"},"encoding":{"text":{"field":"v","type":"nominal"}}},

{"width":87.5,"height":96,"layer":[
{"data":{"name":"B_fit"},"transform":[{"filter":"datum.p=='ENR-VSA'"}],"mark":{"type":"area","color":"#999999","opacity":0.4,"clip":true,"interpolate":"monotone"},"encoding":{"x":{"field":"x","type":"quantitative","scale":{"domain":[1.478,3.722]},"axis":null},"y":{"field":"lo","type":"quantitative","scale":{"domain":[0.465,40.835]},"axis":{"values":[10,20,30,40],"title":null}},"y2":{"field":"hi"}}},
{"data":{"name":"B_obs"},"mark":{"type":"circle","color":"#a0a0a0","size":14,"opacity":1},"encoding":{"x":{"field":"ENR","type":"quantitative","scale":{"domain":[1.478,3.722]},"axis":null},"y":{"field":"VSA","type":"quantitative","scale":{"domain":[0.465,40.835]},"axis":{"values":[10,20,30,40],"title":null}}}},
{"data":{"name":"B_fit"},"transform":[{"filter":"datum.p=='ENR-VSA'"}],"mark":{"type":"line","color":"#000000","strokeWidth":2.8,"clip":true},"encoding":{"x":{"field":"x","type":"quantitative","scale":{"domain":[1.478,3.722]},"axis":null},"y":{"field":"fit","type":"quantitative","scale":{"domain":[0.465,40.835]},"axis":{"values":[10,20,30,40],"title":null}}}}]},
{"width":87.5,"height":96,"data":{"name":"B_dens"},"transform":[{"filter":"datum.v=='VSA'"}],"mark":{"type":"line","color":"#000000","strokeWidth":1.1,"interpolate":"monotone"},"encoding":{"x":{"field":"x","type":"quantitative","scale":{"domain":[0.465,40.835]},"axis":null},"y":{"field":"d","type":"quantitative","scale":{"domain":[-0.00125,0.02625]},"axis":null}}},
{"width":87.5,"height":96,"view":{"stroke":"#ff0000","strokeWidth":2.5},"data":{"name":"B_corr"},"transform":[{"filter":"datum.p=='VSA-PNC'"}],"mark":{"type":"text","style":"corr"},"encoding":{"text":{"field":"label","type":"nominal"}}},
{"width":87.5,"height":96,"data":{"name":"B_corr"},"transform":[{"filter":"datum.p=='VSA-TRANS'"}],"mark":{"type":"text","style":"corr"},"encoding":{"text":{"field":"label","type":"nominal"}}},
{"width":87.5,"height":96,"view":{"stroke":"#ff4cf0","strokeWidth":2.5},"data":{"name":"B_corr"},"transform":[{"filter":"datum.p=='VSA-TRANV'"}],"mark":{"type":"text","style":"corr"},"encoding":{"text":{"field":"label","type":"nominal"}}},
{"width":50,"height":96,"data":{"name":"vars"},"transform":[{"filter":"datum.v=='VSA'"}],"mark":{"type":"text","fontSize":15,"color":"#1a1a1a"},"encoding":{"text":{"field":"v","type":"nominal"}}},

{"width":87.5,"height":96,"layer":[
{"data":{"name":"B_fit"},"transform":[{"filter":"datum.p=='ENR-PNC'"}],"mark":{"type":"area","color":"#999999","opacity":0.4,"clip":true,"interpolate":"monotone"},"encoding":{"x":{"field":"x","type":"quantitative","scale":{"domain":[1.478,3.722]},"axis":null},"y":{"field":"lo","type":"quantitative","scale":{"domain":[-2.1,44.1]},"axis":{"values":[0,10,20,30,40],"title":null}},"y2":{"field":"hi"}}},
{"data":{"name":"B_obs"},"mark":{"type":"circle","color":"#a0a0a0","size":14,"opacity":1},"encoding":{"x":{"field":"ENR","type":"quantitative","scale":{"domain":[1.478,3.722]},"axis":null},"y":{"field":"PNC","type":"quantitative","scale":{"domain":[-2.1,44.1]},"axis":{"values":[0,10,20,30,40],"title":null}}}},
{"data":{"name":"B_fit"},"transform":[{"filter":"datum.p=='ENR-PNC'"}],"mark":{"type":"line","color":"#000000","strokeWidth":2.8,"clip":true},"encoding":{"x":{"field":"x","type":"quantitative","scale":{"domain":[1.478,3.722]},"axis":null},"y":{"field":"fit","type":"quantitative","scale":{"domain":[-2.1,44.1]},"axis":{"values":[0,10,20,30,40],"title":null}}}}]},
{"width":87.5,"height":96,"view":{"stroke":"#ff0000","strokeWidth":2.5},"layer":[
{"data":{"name":"B_fit"},"transform":[{"filter":"datum.p=='VSA-PNC'"}],"mark":{"type":"area","color":"#999999","opacity":0.4,"clip":true,"interpolate":"monotone"},"encoding":{"x":{"field":"x","type":"quantitative","scale":{"domain":[0.465,40.835]},"axis":null},"y":{"field":"lo","type":"quantitative","scale":{"domain":[-2.1,44.1]},"axis":null},"y2":{"field":"hi"}}},
{"data":{"name":"B_obs"},"mark":{"type":"circle","color":"#a0a0a0","size":14,"opacity":1},"encoding":{"x":{"field":"VSA","type":"quantitative","scale":{"domain":[0.465,40.835]},"axis":null},"y":{"field":"PNC","type":"quantitative","scale":{"domain":[-2.1,44.1]},"axis":null}}},
{"data":{"name":"B_fit"},"transform":[{"filter":"datum.p=='VSA-PNC'"}],"mark":{"type":"line","color":"#000000","strokeWidth":2.8,"clip":true},"encoding":{"x":{"field":"x","type":"quantitative","scale":{"domain":[0.465,40.835]},"axis":null},"y":{"field":"fit","type":"quantitative","scale":{"domain":[-2.1,44.1]},"axis":null}}}]},
{"width":87.5,"height":96,"data":{"name":"B_dens"},"transform":[{"filter":"datum.v=='PNC'"}],"mark":{"type":"line","color":"#000000","strokeWidth":1.1,"interpolate":"monotone"},"encoding":{"x":{"field":"x","type":"quantitative","scale":{"domain":[-2.1,44.1]},"axis":null},"y":{"field":"d","type":"quantitative","scale":{"domain":[-0.0025,0.0525]},"axis":null}}},
{"width":87.5,"height":96,"data":{"name":"B_corr"},"transform":[{"filter":"datum.p=='PNC-TRANS'"}],"mark":{"type":"text","style":"corr"},"encoding":{"text":{"field":"label","type":"nominal"}}},
{"width":87.5,"height":96,"view":{"stroke":"#ff4cf0","strokeWidth":2.5},"data":{"name":"B_corr"},"transform":[{"filter":"datum.p=='PNC-TRANV'"}],"mark":{"type":"text","style":"corr"},"encoding":{"text":{"field":"label","type":"nominal"}}},
{"width":50,"height":96,"data":{"name":"vars"},"transform":[{"filter":"datum.v=='PNC'"}],"mark":{"type":"text","fontSize":15,"color":"#1a1a1a"},"encoding":{"text":{"field":"v","type":"nominal"}}},

{"width":87.5,"height":96,"layer":[
{"data":{"name":"B_fit"},"transform":[{"filter":"datum.p=='ENR-TRANS'"}],"mark":{"type":"area","color":"#999999","opacity":0.4,"clip":true,"interpolate":"monotone"},"encoding":{"x":{"field":"x","type":"quantitative","scale":{"domain":[1.478,3.722]},"axis":null},"y":{"field":"lo","type":"quantitative","scale":{"domain":[-1.35,28.35]},"axis":{"values":[0,10,20],"title":null}},"y2":{"field":"hi"}}},
{"data":{"name":"B_obs"},"mark":{"type":"circle","color":"#a0a0a0","size":14,"opacity":1},"encoding":{"x":{"field":"ENR","type":"quantitative","scale":{"domain":[1.478,3.722]},"axis":null},"y":{"field":"TRANS","type":"quantitative","scale":{"domain":[-1.35,28.35]},"axis":{"values":[0,10,20],"title":null}}}},
{"data":{"name":"B_fit"},"transform":[{"filter":"datum.p=='ENR-TRANS'"}],"mark":{"type":"line","color":"#000000","strokeWidth":2.8,"clip":true},"encoding":{"x":{"field":"x","type":"quantitative","scale":{"domain":[1.478,3.722]},"axis":null},"y":{"field":"fit","type":"quantitative","scale":{"domain":[-1.35,28.35]},"axis":{"values":[0,10,20],"title":null}}}}]},
{"width":87.5,"height":96,"layer":[
{"data":{"name":"B_fit"},"transform":[{"filter":"datum.p=='VSA-TRANS'"}],"mark":{"type":"area","color":"#999999","opacity":0.4,"clip":true,"interpolate":"monotone"},"encoding":{"x":{"field":"x","type":"quantitative","scale":{"domain":[0.465,40.835]},"axis":null},"y":{"field":"lo","type":"quantitative","scale":{"domain":[-1.35,28.35]},"axis":null},"y2":{"field":"hi"}}},
{"data":{"name":"B_obs"},"mark":{"type":"circle","color":"#a0a0a0","size":14,"opacity":1},"encoding":{"x":{"field":"VSA","type":"quantitative","scale":{"domain":[0.465,40.835]},"axis":null},"y":{"field":"TRANS","type":"quantitative","scale":{"domain":[-1.35,28.35]},"axis":null}}},
{"data":{"name":"B_fit"},"transform":[{"filter":"datum.p=='VSA-TRANS'"}],"mark":{"type":"line","color":"#000000","strokeWidth":2.8,"clip":true},"encoding":{"x":{"field":"x","type":"quantitative","scale":{"domain":[0.465,40.835]},"axis":null},"y":{"field":"fit","type":"quantitative","scale":{"domain":[-1.35,28.35]},"axis":null}}}]},
{"width":87.5,"height":96,"layer":[
{"data":{"name":"B_fit"},"transform":[{"filter":"datum.p=='PNC-TRANS'"}],"mark":{"type":"area","color":"#999999","opacity":0.4,"clip":true,"interpolate":"monotone"},"encoding":{"x":{"field":"x","type":"quantitative","scale":{"domain":[-2.1,44.1]},"axis":null},"y":{"field":"lo","type":"quantitative","scale":{"domain":[-1.35,28.35]},"axis":null},"y2":{"field":"hi"}}},
{"data":{"name":"B_obs"},"mark":{"type":"circle","color":"#a0a0a0","size":14,"opacity":1},"encoding":{"x":{"field":"PNC","type":"quantitative","scale":{"domain":[-2.1,44.1]},"axis":null},"y":{"field":"TRANS","type":"quantitative","scale":{"domain":[-1.35,28.35]},"axis":null}}},
{"data":{"name":"B_fit"},"transform":[{"filter":"datum.p=='PNC-TRANS'"}],"mark":{"type":"line","color":"#000000","strokeWidth":2.8,"clip":true},"encoding":{"x":{"field":"x","type":"quantitative","scale":{"domain":[-2.1,44.1]},"axis":null},"y":{"field":"fit","type":"quantitative","scale":{"domain":[-1.35,28.35]},"axis":null}}}]},
{"width":87.5,"height":96,"data":{"name":"B_dens"},"transform":[{"filter":"datum.v=='TRANS'"}],"mark":{"type":"line","color":"#000000","strokeWidth":1.1,"interpolate":"monotone"},"encoding":{"x":{"field":"x","type":"quantitative","scale":{"domain":[-1.35,28.35]},"axis":null},"y":{"field":"d","type":"quantitative","scale":{"domain":[-0.0035,0.0735]},"axis":null}}},
{"width":87.5,"height":96,"view":{"stroke":"#0070c0","strokeWidth":2.5},"data":{"name":"B_corr"},"transform":[{"filter":"datum.p=='TRANS-TRANV'"}],"mark":{"type":"text","style":"corr"},"encoding":{"text":{"field":"label","type":"nominal"}}},
{"width":50,"height":96,"data":{"name":"vars"},"transform":[{"filter":"datum.v=='TRANS'"}],"mark":{"type":"text","fontSize":15,"color":"#1a1a1a"},"encoding":{"text":{"field":"v","type":"nominal"}}},

{"width":87.5,"height":96,"layer":[
{"data":{"name":"B_fit"},"transform":[{"filter":"datum.p=='ENR-TRANV'"}],"mark":{"type":"area","color":"#999999","opacity":0.4,"clip":true,"interpolate":"monotone"},"encoding":{"x":{"field":"x","type":"quantitative","scale":{"domain":[1.478,3.722]},"axis":{"values":[1.5,2,2.5,3,3.5],"format":".1f","title":null}},"y":{"field":"lo","type":"quantitative","scale":{"domain":[-0.25,5.25]},"axis":{"values":[0,1,2,3,4,5],"title":null}},"y2":{"field":"hi"}}},
{"data":{"name":"B_obs"},"mark":{"type":"circle","color":"#a0a0a0","size":14,"opacity":1},"encoding":{"x":{"field":"ENR","type":"quantitative","scale":{"domain":[1.478,3.722]},"axis":{"values":[1.5,2,2.5,3,3.5],"format":".1f","title":null}},"y":{"field":"TRANV","type":"quantitative","scale":{"domain":[-0.25,5.25]},"axis":{"values":[0,1,2,3,4,5],"title":null}}}},
{"data":{"name":"B_fit"},"transform":[{"filter":"datum.p=='ENR-TRANV'"}],"mark":{"type":"line","color":"#000000","strokeWidth":2.8,"clip":true},"encoding":{"x":{"field":"x","type":"quantitative","scale":{"domain":[1.478,3.722]},"axis":{"values":[1.5,2,2.5,3,3.5],"format":".1f","title":null}},"y":{"field":"fit","type":"quantitative","scale":{"domain":[-0.25,5.25]},"axis":{"values":[0,1,2,3,4,5],"title":null}}}}]},
{"width":87.5,"height":96,"view":{"stroke":"#ff4cf0","strokeWidth":2.5},"layer":[
{"data":{"name":"B_fit"},"transform":[{"filter":"datum.p=='VSA-TRANV'"}],"mark":{"type":"area","color":"#999999","opacity":0.4,"clip":true,"interpolate":"monotone"},"encoding":{"x":{"field":"x","type":"quantitative","scale":{"domain":[0.465,40.835]},"axis":{"values":[10,20,30,40],"title":null}},"y":{"field":"lo","type":"quantitative","scale":{"domain":[-0.25,5.25]},"axis":null},"y2":{"field":"hi"}}},
{"data":{"name":"B_obs"},"mark":{"type":"circle","color":"#a0a0a0","size":14,"opacity":1},"encoding":{"x":{"field":"VSA","type":"quantitative","scale":{"domain":[0.465,40.835]},"axis":{"values":[10,20,30,40],"title":null}},"y":{"field":"TRANV","type":"quantitative","scale":{"domain":[-0.25,5.25]},"axis":null}}},
{"data":{"name":"B_fit"},"transform":[{"filter":"datum.p=='VSA-TRANV'"}],"mark":{"type":"line","color":"#000000","strokeWidth":2.8,"clip":true},"encoding":{"x":{"field":"x","type":"quantitative","scale":{"domain":[0.465,40.835]},"axis":{"values":[10,20,30,40],"title":null}},"y":{"field":"fit","type":"quantitative","scale":{"domain":[-0.25,5.25]},"axis":null}}}]},
{"width":87.5,"height":96,"view":{"stroke":"#ff4cf0","strokeWidth":2.5},"layer":[
{"data":{"name":"B_fit"},"transform":[{"filter":"datum.p=='PNC-TRANV'"}],"mark":{"type":"area","color":"#999999","opacity":0.4,"clip":true,"interpolate":"monotone"},"encoding":{"x":{"field":"x","type":"quantitative","scale":{"domain":[-2.1,44.1]},"axis":{"values":[0,10,20,30,40],"title":null}},"y":{"field":"lo","type":"quantitative","scale":{"domain":[-0.25,5.25]},"axis":null},"y2":{"field":"hi"}}},
{"data":{"name":"B_obs"},"mark":{"type":"circle","color":"#a0a0a0","size":14,"opacity":1},"encoding":{"x":{"field":"PNC","type":"quantitative","scale":{"domain":[-2.1,44.1]},"axis":{"values":[0,10,20,30,40],"title":null}},"y":{"field":"TRANV","type":"quantitative","scale":{"domain":[-0.25,5.25]},"axis":null}}},
{"data":{"name":"B_fit"},"transform":[{"filter":"datum.p=='PNC-TRANV'"}],"mark":{"type":"line","color":"#000000","strokeWidth":2.8,"clip":true},"encoding":{"x":{"field":"x","type":"quantitative","scale":{"domain":[-2.1,44.1]},"axis":{"values":[0,10,20,30,40],"title":null}},"y":{"field":"fit","type":"quantitative","scale":{"domain":[-0.25,5.25]},"axis":null}}}]},
{"width":87.5,"height":96,"view":{"stroke":"#0070c0","strokeWidth":2.5},"layer":[
{"data":{"name":"B_fit"},"transform":[{"filter":"datum.p=='TRANS-TRANV'"}],"mark":{"type":"area","color":"#999999","opacity":0.4,"clip":true,"interpolate":"monotone"},"encoding":{"x":{"field":"x","type":"quantitative","scale":{"domain":[-1.35,28.35]},"axis":{"values":[0,10,20],"title":null}},"y":{"field":"lo","type":"quantitative","scale":{"domain":[-0.25,5.25]},"axis":null},"y2":{"field":"hi"}}},
{"data":{"name":"B_obs"},"mark":{"type":"circle","color":"#a0a0a0","size":14,"opacity":1},"encoding":{"x":{"field":"TRANS","type":"quantitative","scale":{"domain":[-1.35,28.35]},"axis":{"values":[0,10,20],"title":null}},"y":{"field":"TRANV","type":"quantitative","scale":{"domain":[-0.25,5.25]},"axis":null}}},
{"data":{"name":"B_fit"},"transform":[{"filter":"datum.p=='TRANS-TRANV'"}],"mark":{"type":"line","color":"#000000","strokeWidth":2.8,"clip":true},"encoding":{"x":{"field":"x","type":"quantitative","scale":{"domain":[-1.35,28.35]},"axis":{"values":[0,10,20],"title":null}},"y":{"field":"fit","type":"quantitative","scale":{"domain":[-0.25,5.25]},"axis":null}}}]},
{"width":87.5,"height":96,"data":{"name":"B_dens"},"transform":[{"filter":"datum.v=='TRANV'"}],"mark":{"type":"line","color":"#000000","strokeWidth":1.1,"interpolate":"monotone"},"encoding":{"x":{"field":"x","type":"quantitative","scale":{"domain":[-0.25,5.25]},"axis":{"values":[0,1,2,3,4,5],"title":null}},"y":{"field":"d","type":"quantitative","scale":{"domain":[-0.015,0.315]},"axis":null}}},
{"width":50,"height":96,"data":{"name":"vars"},"transform":[{"filter":"datum.v=='TRANV'"}],"mark":{"type":"text","fontSize":15,"color":"#1a1a1a"},"encoding":{"text":{"field":"v","type":"nominal"}}}
]
}
],
"spacing":30.6,
"config":{
"font":"Liberation Sans",
"view":{"stroke":null},
"style":{"corr":{"lineBreak":"\n","lineHeight":18,"fontSize":13,"color":"#666666","fill":"#666666","dy":-8.5}},
"axis":{"domainColor":"#000000","domainWidth":1.1,"tickColor":"#333333","tickWidth":1.1,"tickSize":4,"labelColor":"#4d4d4d","labelFontSize":11.5,"labelFont":"Liberation Sans","labelPadding":4,"grid":false,"labelFlush":false,"labelOverlap":false,"labelBound":false},
"title":{"font":"Liberation Sans","fontSize":15,"fontWeight":"normal","color":"#1a1a1a","anchor":"middle","offset":6.7}
}
}
